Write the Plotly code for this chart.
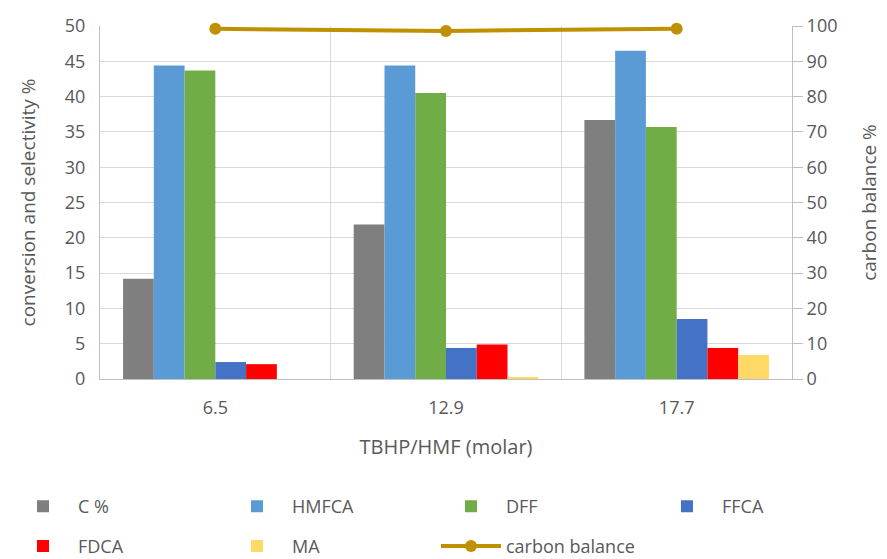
import plotly.graph_objects as go

categories = ["6.5", "12.9", "17.7"]
c_pct = [14.2, 21.9, 36.7]
hmfca = [44.4, 44.4, 46.5]
dff = [43.7, 40.5, 35.7]
ffca = [2.4, 4.4, 8.5]
fdca = [2.1, 4.9, 4.4]
ma = [0.0, 0.3, 3.4]
carbon_balance = [99.2, 98.6, 99.2]

series = [
    ("C %", c_pct, "#7f7f7f", "legend"),
    ("HMFCA", hmfca, "#5b9bd5", "legend"),
    ("DFF", dff, "#70ad47", "legend"),
    ("FFCA", ffca, "#4472c4", "legend3"),
    ("FDCA", fdca, "#ff0000", "legend2"),
    ("MA", ma, "#ffd966", "legend2"),
]

fig = go.Figure()
for name, vals, color, lg in series:
    fig.add_trace(go.Bar(x=categories, y=vals, name=name, marker_color=color,
                         marker_line_width=0, legend=lg))

fig.add_trace(go.Scatter(x=categories, y=carbon_balance, name="carbon balance",
                         yaxis="y2", mode="lines+markers",
                         line=dict(color="#bf9000", width=4),
                         marker=dict(color="#bf9000", size=12),
                         legend="legend2", cliponaxis=False))

GRAY = "#595959"
FAM = "Open Sans, sans-serif"
tick_font = dict(family=FAM, size=18, color=GRAY)
xtick_font = dict(family=FAM, size=18, color=GRAY)
title_font = dict(family=FAM, size=19, color=GRAY)
legend_font = dict(family=FAM, size=18, color=GRAY)

legend_common = dict(orientation="h", xref="container", yref="container",
                     xanchor="left", yanchor="middle", entrywidth=139,
                     entrywidthmode="pixels", font=legend_font, itemwidth=60,
                     traceorder="normal", bgcolor="rgba(0,0,0,0)")

fig.update_layout(
    template="none",
    width=887, height=559,
    margin=dict(l=92, r=103, t=18, b=188, autoexpand=False),
    paper_bgcolor="white", plot_bgcolor="white",
    barmode="group", bargap=0.2, bargroupgap=0,
    xaxis=dict(type="category", tickfont=xtick_font, tickson="boundaries", showgrid=True,
               gridcolor="#d9d9d9", gridwidth=1, showline=True, linecolor="#bfbfbf",
               ticks="", automargin=False, ticklabelstandoff=12,
               title=dict(text="TBHP/HMF (molar)", font=dict(family=FAM, size=20, color=GRAY), standoff=22)),
    yaxis=dict(range=[0, 50], dtick=5, tickfont=tick_font, gridcolor="#d9d9d9",
               showline=True, linecolor="#bfbfbf", ticks="", zeroline=False,
               automargin=False, ticklabelstandoff=10,
               title=dict(text="conversion and selectivity %", font=title_font, standoff=24)),
    yaxis2=dict(range=[0, 100], dtick=10, overlaying="y", side="right",
                tickfont=tick_font, showgrid=False, showline=True, linecolor="#bfbfbf",
                ticks="outside", ticklen=10, tickcolor="#bfbfbf", zeroline=False,
                automargin=False,
                title=dict(text="carbon balance %", font=title_font, standoff=26)),
    legend=dict(x=0.0, y=0.108, **legend_common),
    legend3=dict(x=0.726, y=0.108, **legend_common),
    legend2=dict(x=0.0, y=0.037, **legend_common),
)

fig.write_html("out.html")
